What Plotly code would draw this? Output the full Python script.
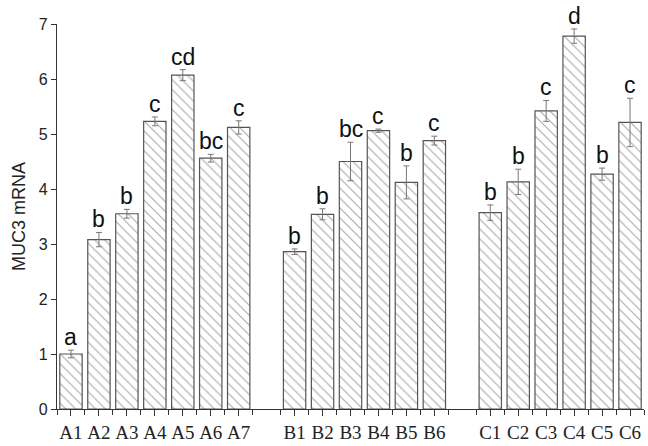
import plotly.graph_objects as go

groups = [
    ["A1", "A2", "A3", "A4", "A5", "A6", "A7"],
    ["B1", "B2", "B3", "B4", "B5", "B6"],
    ["C1", "C2", "C3", "C4", "C5", "C6"],
]
values = [
    [1.00, 3.08, 3.55, 5.23, 6.07, 4.56, 5.12],
    [2.86, 3.54, 4.50, 5.06, 4.12, 4.88],
    [3.57, 4.13, 5.42, 6.78, 4.27, 5.21],
]
errors = [
    [0.07, 0.13, 0.08, 0.08, 0.10, 0.07, 0.12],
    [0.05, 0.10, 0.35, 0.03, 0.30, 0.08],
    [0.14, 0.23, 0.19, 0.13, 0.11, 0.44],
]
letters = [
    ["a", "b", "b", "c", "cd", "bc", "c"],
    ["b", "b", "bc", "c", "b", "c"],
    ["b", "b", "c", "d", "b", "c"],
]
yticks = [0, 1, 2, 3, 4, 5, 6, 7]

# positions: one empty slot between groups
xs, labels, vals, errs, lets = [], [], [], [], []
pos = 0
for gi, g in enumerate(groups):
    for i, lab in enumerate(g):
        xs.append(pos)
        labels.append(lab)
        vals.append(values[gi][i])
        errs.append(errors[gi][i])
        lets.append(letters[gi][i])
        pos += 1
    pos += 1
xmax = pos - 2

fig = go.Figure()
fig.add_trace(go.Bar(
    x=xs, y=vals, width=0.8,
    marker=dict(color="white",
                line=dict(color="#555555", width=1.2),
                pattern=dict(shape="\\", size=7, solidity=0.16,
                             fgcolor="#555555", bgcolor="white", fillmode="overlay")),
    error_y=dict(type="data", array=errs, visible=True, color="#777777",
                 thickness=1, width=3),
    showlegend=False,
))

for x, v, e, t in zip(xs, vals, errs, lets):
    fig.add_annotation(x=x, y=v + e, text=t, showarrow=False, yanchor="bottom",
                       yshift=-1, borderpad=0,
                       font=dict(family="Liberation Sans Narrow, Arial Narrow, Liberation Sans, Arial",
                                 size=23, color="#111111"))

fig.update_layout(
    width=648, height=446,
    margin=dict(l=57, r=4, t=24, b=37),
    plot_bgcolor="white", paper_bgcolor="white",
    xaxis=dict(range=[-0.5, xmax + 0.5], tickmode="array", tickvals=xs, ticktext=labels,
               ticks="outside", ticklen=6, tickcolor="#333333", tickwidth=1,
               showline=True, linecolor="#333333", linewidth=1.2, showgrid=False,
               zeroline=False,
               tickfont=dict(family="Liberation Serif, Times New Roman, serif", size=19, color="#222222"),
               minor=dict(tickmode="linear", tick0=-0.5, dtick=1, ticks="outside",
                          ticklen=5, tickcolor="#333333", tickwidth=1)),
    yaxis=dict(range=[0, 7], tickmode="array", tickvals=yticks,
               ticks="outside", ticklen=5, tickcolor="#333333", tickwidth=1,
               showline=True, linecolor="#333333", linewidth=1.2, showgrid=False,
               zeroline=False,
               tickfont=dict(family="Liberation Sans, Arial", size=16, color="#222222"),
               title=dict(text="MUC3 mRNA", standoff=8,
                          font=dict(family="Liberation Sans, Arial", size=18, color="#222222"))),
)

fig.write_html("out.html")
